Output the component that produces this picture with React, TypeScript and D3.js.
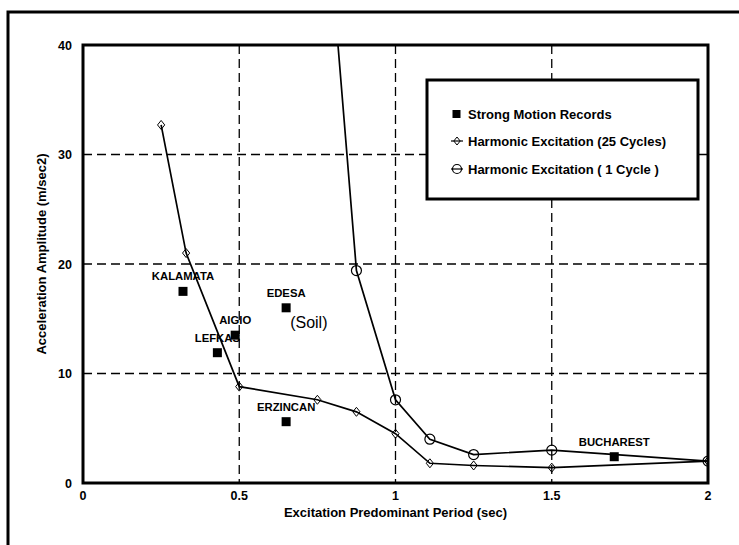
import React from "react";
import * as d3 from "d3";

// Excitation period (sec) and acceleration amplitude (m/sec2)
const harmonic25Period = [0.25, 0.33, 0.5, 0.75, 0.875, 1.0, 1.11, 1.25, 1.5, 2.0];
const harmonic25Accel = [32.7, 21.0, 8.8, 7.6, 6.5, 4.5, 1.8, 1.6, 1.4, 2.0];

const harmonic1Period = [0.75, 0.875, 1.0, 1.11, 1.25, 1.5, 2.0];
const harmonic1Accel = [63.0, 19.4, 7.6, 4.0, 2.6, 3.0, 2.0];

const recordNames = ["KALAMATA", "EDESA", "AIGIO", "LEFKAS", "ERZINCAN", "BUCHAREST"];
const recordPeriod = [0.32, 0.65, 0.487, 0.43, 0.65, 1.7];
const recordAccel = [17.5, 16.0, 13.5, 11.9, 5.6, 2.4];

const xTicks = [0, 0.5, 1, 1.5, 2];
const yTicks = [0, 10, 20, 30, 40];
const xGrid = [0.5, 1, 1.5];
const yGrid = [10, 20, 30];

const legendLabels = [
  "Strong Motion Records",
  "Harmonic Excitation (25 Cycles)",
  "Harmonic Excitation ( 1 Cycle )",
];

const W = 739;
const H = 545;
const plot = { left: 83, right: 708, top: 45, bottom: 483 };
const FONT = "'Liberation Sans', Arial, sans-serif";

export default function App() {
  const x = d3.scaleLinear().domain([0, 2]).range([plot.left, plot.right]);
  const y = d3.scaleLinear().domain([0, 40]).range([plot.bottom, plot.top]);

  const line = d3
    .line<[number, number]>()
    .x((d) => x(d[0]))
    .y((d) => y(d[1]));

  const s25: [number, number][] = harmonic25Period.map((p, i) => [p, harmonic25Accel[i]]);
  const s1: [number, number][] = harmonic1Period.map((p, i) => [p, harmonic1Accel[i]]);

  const diamond = (cx: number, cy: number, r = 4.5) =>
    `M${cx},${cy - r}L${cx + r * 0.8},${cy}L${cx},${cy + r}L${cx - r * 0.8},${cy}Z`;

  const legend = { x: 427, y: 80, w: 271, h: 119 };
  const legendRows = [114, 141, 169];

  return (
    <svg
      width={W}
      height={H}
      style={{ position: "absolute", left: 0, top: 0, background: "#fff" }}
      fontFamily={FONT}
    >
      <defs>
        <clipPath id="plot-clip">
          <rect x={plot.left} y={plot.top} width={plot.right - plot.left} height={plot.bottom - plot.top} />
        </clipPath>
      </defs>
      <rect x={0} y={0} width={W} height={H} fill="#fff" />

      {/* outer frame */}
      <rect x={8} y={12} width={W + 20} height={H + 20} fill="none" stroke="#000" strokeWidth={3} />

      {/* grid */}
      {xGrid.map((g) => (
        <line
          key={"gx" + g}
          x1={x(g)}
          x2={x(g)}
          y1={plot.top}
          y2={plot.bottom}
          stroke="#000"
          strokeWidth={1.3}
          strokeDasharray="9,5"
        />
      ))}
      {yGrid.map((g) => (
        <line
          key={"gy" + g}
          x1={plot.left}
          x2={plot.right}
          y1={y(g)}
          y2={y(g)}
          stroke="#000"
          strokeWidth={1.3}
          strokeDasharray="9,5"
        />
      ))}

      {/* series */}
      <g clipPath="url(#plot-clip)">
        <path d={line(s1) || ""} fill="none" stroke="#000" strokeWidth={1.7} />
        <path d={line(s25) || ""} fill="none" stroke="#000" strokeWidth={1.7} />
        {s25.map((d, i) => (
          <path key={"d" + i} d={diamond(x(d[0]), y(d[1]))} fill="none" stroke="#000" strokeWidth={1} />
        ))}
        {s1.map((d, i) => (
          <circle key={"c" + i} cx={x(d[0])} cy={y(d[1])} r={5} fill="none" stroke="#000" strokeWidth={1.2} />
        ))}
      </g>

      {/* strong motion records */}
      {recordNames.map((n, i) => (
        <text
          key={n}
          x={x(recordPeriod[i])}
          y={y(recordAccel[i]) - 11}
          textAnchor="middle"
          fontSize={11.3}
          fontWeight="bold"
          fill="#000"
        >
          {n}
        </text>
      ))}
      {recordNames.map((n, i) => (
        <rect
          key={"sq" + n}
          x={x(recordPeriod[i]) - 4.5}
          y={y(recordAccel[i]) - 4.5}
          width={9}
          height={9}
          fill="#000"
        />
      ))}
      <text x={x(recordPeriod[1]) + 4} y={y(recordAccel[1]) + 20} fontSize={16} fill="#000">
        (Soil)
      </text>

      {/* plot border */}
      <rect
        x={plot.left}
        y={plot.top}
        width={plot.right - plot.left}
        height={plot.bottom - plot.top}
        fill="none"
        stroke="#000"
        strokeWidth={3}
      />

      {/* legend */}
      <rect x={legend.x} y={legend.y} width={legend.w} height={legend.h} fill="#fff" stroke="#000" strokeWidth={3} />
      <rect x={452.5} y={legendRows[0] - 4} width={8} height={8} fill="#000" />
      <line x1={451} x2={463} y1={legendRows[1]} y2={legendRows[1]} stroke="#000" strokeWidth={1.2} />
      <path d={diamond(457, legendRows[1], 4)} fill="none" stroke="#000" strokeWidth={1} />
      <line x1={451} x2={463} y1={legendRows[2]} y2={legendRows[2]} stroke="#000" strokeWidth={1.2} />
      <circle cx={457} cy={legendRows[2]} r={4.5} fill="none" stroke="#000" strokeWidth={1.2} />
      {legendLabels.map((l, i) => (
        <text key={l} x={468} y={legendRows[i] + 4.5} fontSize={13} fontWeight="bold" fill="#000">
          {l}
        </text>
      ))}

      {/* axes labels */}
      {yTicks.map((t) => (
        <text key={"yt" + t} x={72} y={y(t) + 4.5} textAnchor="end" fontSize={12.5} fontWeight="bold" fill="#000">
          {t}
        </text>
      ))}
      {xTicks.map((t) => (
        <text key={"xt" + t} x={x(t)} y={plot.bottom + 17} textAnchor="middle" fontSize={12.5} fontWeight="bold" fill="#000">
          {t}
        </text>
      ))}
      <text
        x={(plot.left + plot.right) / 2}
        y={plot.bottom + 34}
        textAnchor="middle"
        fontSize={13}
        fontWeight="bold"
        fill="#000"
      >
        Excitation Predominant Period (sec)
      </text>
      <text
        transform={`translate(46,${(plot.top + plot.bottom) / 2 - 10}) rotate(-90)`}
        textAnchor="middle"
        fontSize={13}
        fontWeight="bold"
        fill="#000"
      >
        Acceleration Amplitude (m/sec2)
      </text>
    </svg>
  );
}
